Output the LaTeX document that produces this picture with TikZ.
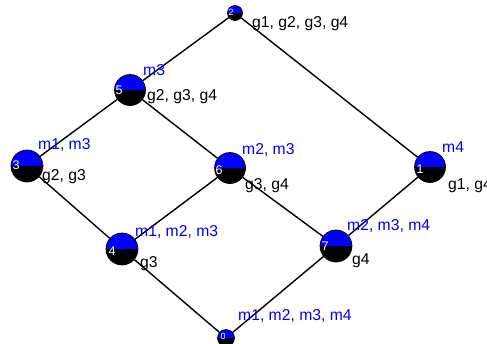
\documentclass[tikz,border=0pt]{standalone}
\usepackage{fontspec}
\setmainfont{Liberation Sans}
\begin{document}
\begin{tikzpicture}[x=1pt,y=-1pt,
  vtx/.style={circle, draw=black, line width=0.7pt, inner sep=0pt, minimum size=#1,
    path picture={\fill[blue] (path picture bounding box.north west) rectangle (path picture bounding box.east);
                  \fill[black] (path picture bounding box.west) rectangle (path picture bounding box.south east);}},
  num/.style={text=white, inner sep=0pt, font=\fontsize{12.5}{13}\selectfont},
  snum/.style={text=white, inner sep=0pt, font=\fontsize{9}{10}\selectfont},
  mlab/.style={text=blue, inner sep=0pt, anchor=base west, font=\fontsize{15.7}{18}\selectfont},
  glab/.style={text=black, inner sep=0pt, anchor=base west, font=\fontsize{15.7}{18}\selectfont},
  edge/.style={draw=black, line width=1.4pt}]
\useasboundingbox (0,0) rectangle (487,343);
\fill[white] (0,0) rectangle (487,343);
% vertices
\node[vtx=15pt] (v2) at (235,13) {};
\node[vtx=31pt] (v5) at (130,90) {};
\node[vtx=32pt] (v3) at (27,166) {};
\node[vtx=31pt] (v6) at (230,168) {};
\node[vtx=31pt] (v1) at (430,167) {};
\node[vtx=32pt] (v4) at (122,249) {};
\node[vtx=32pt] (v7) at (336,246) {};
\node[vtx=17pt] (v0) at (226,338) {};
% edges
\draw[edge] (v2) -- (v5);
\draw[edge] (v2) -- (v1);
\draw[edge] (v5) -- (v3);
\draw[edge] (v5) -- (v6);
\draw[edge] (v3) -- (v4);
\draw[edge] (v6) -- (v4);
\draw[edge] (v6) -- (v7);
\draw[edge] (v1) -- (v7);
\draw[edge] (v4) -- (v0);
\draw[edge] (v7) -- (v0);
% numbers
\node[snum] (n2) at (231,12) {2};
\node[num] (n5) at (119,90) {5};
\node[num] (n3) at (16,165) {3};
\node[num] (n6) at (219,170) {6};
\node[num] (n1) at (420,169) {1};
\node[num] (n4) at (112,251) {4};
\node[num] (n7) at (325,246) {7};
\node[snum] (n0) at (223,336) {0};
% labels
\node[glab] (g2) at (252,27) {g1, g2, g3, g4};
\node[mlab] (m5) at (143,75) {m3};
\node[glab] (g5) at (147,100) {g2, g3, g4};
\node[mlab] (m3) at (38,149) {m1, m3};
\node[glab] (g3) at (42,180) {g2, g3};
\node[mlab] (m6) at (242,154) {m2, m3};
\node[glab] (g6) at (245,189) {g3, g4};
\node[mlab] (m1) at (442,152) {m4};
\node[glab] (g1) at (448,189) {g1, g4};
\node[mlab] (m4) at (135,236) {m1, m2, m3};
\node[glab] (g4) at (140,267) {g3};
\node[mlab] (m7) at (347,230) {m2, m3, m4};
\node[glab] (g7) at (352,264) {g4};
\node[mlab] (m0) at (238,320) {m1, m2, m3, m4};
\end{tikzpicture}
\end{document}
